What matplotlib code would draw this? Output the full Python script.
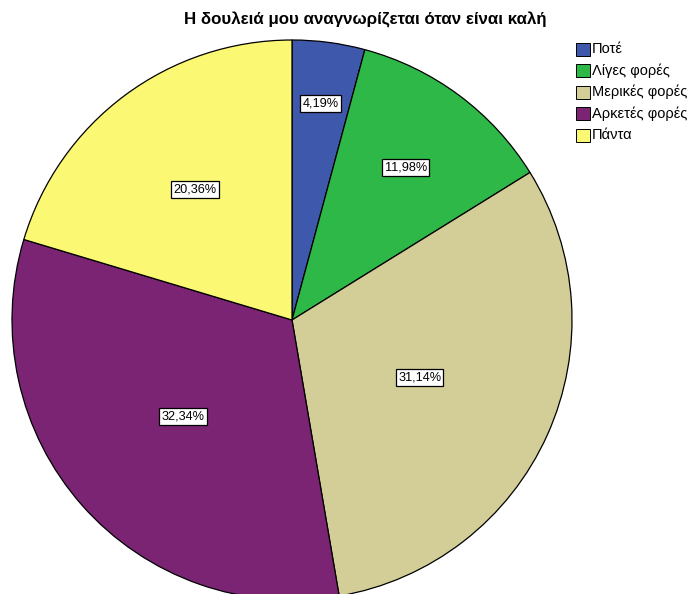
import numpy as np
import matplotlib
matplotlib.use("Agg")
import matplotlib.pyplot as plt
from matplotlib.patches import Rectangle

plt.rcParams['font.family'] = ['Liberation Sans', 'DejaVu Sans']

# answers and their share of respondents (%)
categories = ['Ποτέ', 'Λίγες φορές', 'Μερικές φορές', 'Αρκετές φορές', 'Πάντα']
percentages = [4.19, 11.98, 31.14, 32.34, 20.36]
colors = ['#3E58AC', '#2EB848', '#D3CE97', '#7C2474', '#FBF873']
title = 'Η δουλειά μου αναγνωρίζεται όταν είναι καλή'

# how far out from the centre each percentage box sits (fraction of radius)
label_radius = [0.78, 0.68, 0.50, 0.52, 0.58]

W, H = 697, 594
fig = plt.figure(figsize=(W / 100, H / 100), dpi=100)

# pie centre at (292, 320) px, radius 280 px; the bottom runs off the figure
cx, cy, r = 292, 320, 280
ax = fig.add_axes([(cx - r) / W, (H - cy - r) / H, 2 * r / W, 2 * r / H])
wedges, _ = ax.pie(percentages, colors=colors, startangle=90, counterclock=False,
                   wedgeprops=dict(edgecolor='black', linewidth=0.9))
ax.set_xlim(-1, 1)
ax.set_ylim(-1, 1)
ax.set_aspect('equal')
ax.axis('off')

# percentage boxes at the middle angle of each slice
cum = np.cumsum([0] + percentages[:-1])
for p, start, rad in zip(percentages, cum, label_radius):
    mid = np.deg2rad(90 - (start + p / 2) * 3.6)
    ax.text(rad * np.cos(mid), rad * np.sin(mid), f'{p:.2f}%'.replace('.', ','),
            ha='center', va='center', fontsize=9.2,
            bbox=dict(boxstyle='square,pad=0.18', facecolor='white',
                      edgecolor='black', linewidth=0.9))

fig.text(365 / W, 1 - 20 / H, title, ha='center', va='center',
         fontsize=12.2, fontweight='bold')

# legend drawn by hand in the top-right corner
for i, (name, c) in enumerate(zip(categories, colors)):
    yc = 49 + i * 21.5
    fig.patches.append(Rectangle((576 / W, 1 - (yc + 6.5) / H), 14 / W, 13 / H,
                                 facecolor=c, edgecolor='black', linewidth=0.7,
                                 transform=fig.transFigure, figure=fig))
    fig.text(592 / W, 1 - yc / H, name, ha='left', va='center', fontsize=10.5)

fig.savefig('out.png', dpi=100)
